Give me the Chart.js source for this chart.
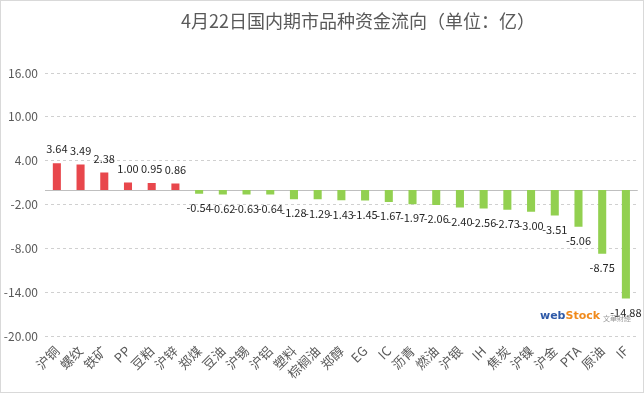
<!DOCTYPE html>
<html>
<head>
<meta charset="utf-8">
<script src="https://cdn.jsdelivr.net/npm/chart.js@4/dist/chart.umd.min.js"></script>
<style>
  html, body { margin: 0; padding: 0; background: #fff; }
  #wrap { width: 644px; height: 393px; position: relative; }
</style>
</head>
<body>
<div id="wrap"><canvas id="flowChart"></canvas></div>
<script>
// ---- data ----
const categories = ["沪铜", "螺纹", "铁矿", "PP", "豆粕", "沪锌", "郑煤", "豆油", "沪锡", "沪铝",
    "塑料", "棕榈油", "郑醇", "EG", "IC", "沥青", "燃油", "沪银", "IH", "焦炭",
    "沪镍", "沪金", "PTA", "原油", "IF"];
const flows = [3.64, 3.49, 2.38, 1.00, 0.95, 0.86, -0.54, -0.62, -0.63, -0.64,
    -1.28, -1.29, -1.43, -1.45, -1.67, -1.97, -2.06, -2.40, -2.56, -2.73,
    -3.00, -3.51, -5.06, -8.75, -14.88];
const yTicks = [16, 10, 4, -2, -8, -14, -20];
const titleText = "4月22日国内期市品种资金流向（单位：亿）";

const FONT = "'Noto Sans CJK SC', 'Noto Sans', sans-serif";
const GREY = "#595959";

// background, frame, title, zero line, value labels, logo
const decor = {
    id: "decor",
    beforeDraw(chart) {
        const c = chart.ctx;
        c.save();
        c.fillStyle = "#fff";
        c.fillRect(0, 0, chart.width, chart.height);
        c.strokeStyle = "#d9d9d9";
        c.lineWidth = 1;
        c.strokeRect(0.5, 0.5, chart.width - 1, chart.height - 1);
        c.fillStyle = GREY;
        c.font = "18px " + FONT;
        c.textAlign = "center";
        c.textBaseline = "middle";
        c.fillText(titleText, 358, 21);
        c.restore();
    },
    beforeDatasetsDraw(chart) {
        const c = chart.ctx;
        const area = chart.chartArea;
        const y0 = Math.round(chart.scales.y.getPixelForValue(0)) + 0.5;
        c.save();
        c.strokeStyle = "#bfbfbf";
        c.lineWidth = 1;
        c.beginPath();
        c.moveTo(area.left, y0);
        c.lineTo(area.right, y0);
        c.stroke();
        c.restore();
    },
    afterDatasetsDraw(chart) {
        const c = chart.ctx;
        const meta = chart.getDatasetMeta(0);
        c.save();
        c.fillStyle = "#262626";
        c.font = "11px " + FONT;
        c.textAlign = "center";
        c.textBaseline = "middle";
        meta.data.forEach((bar, i) => {
            const v = flows[i];
            const y = v >= 0 ? bar.y - 14 : bar.y + 14;
            c.fillText(v.toFixed(2), bar.x, y);
        });
        // webstock logo text
        c.textAlign = "left";
        c.font = "bold 11px 'DejaVu Sans', sans-serif";
        c.fillStyle = "#2f5aa8";
        c.fillText("web", 540, 316);
        const w = c.measureText("web").width;
        c.fillStyle = "#f08a1c";
        c.fillText("Stock", 540 + w, 316);
        c.font = "7px " + FONT;
        c.fillStyle = "#9a9a9a";
        c.fillText("文華財經", 603, 318);
        c.restore();
    }
};

new Chart(document.getElementById("flowChart"), {
    type: "bar",
    data: {
        labels: categories,
        datasets: [{
            data: flows,
            backgroundColor: flows.map(v => v >= 0 ? "#e8474c" : "#92d050"),
            barPercentage: 0.34,
            categoryPercentage: 1.0
        }]
    },
    options: {
        responsive: true,
        maintainAspectRatio: false,
        animation: false,
        layout: { padding: { top: 73, right: 3, left: 0, bottom: 0 } },
        plugins: {
            legend: { display: false },
            tooltip: { enabled: false },
            title: { display: false }
        },
        scales: {
            x: {
                grid: { display: false, drawTicks: false },
                border: { display: false },
                ticks: {
                    color: GREY,
                    font: { size: 13, family: FONT },
                    minRotation: 45,
                    maxRotation: 45,
                    autoSkip: false,
                    padding: 7
                },
                afterFit(scale) { scale.height = 57; }
            },
            y: {
                min: -20,
                max: 16,
                afterBuildTicks(scale) {
                    scale.ticks = yTicks.map(v => ({ value: v }));
                },
                grid: {
                    color: "#d0d0d0",
                    drawTicks: false
                },
                border: { display: false, dash: [3, 3] },
                ticks: {
                    color: GREY,
                    font: { size: 12, family: FONT },
                    padding: 7,
                    callback: v => Number(v).toFixed(2)
                },
                afterFit(scale) { scale.width = 45; }
            }
        }
    },
    plugins: [decor]
});
</script>
</body>
</html>
